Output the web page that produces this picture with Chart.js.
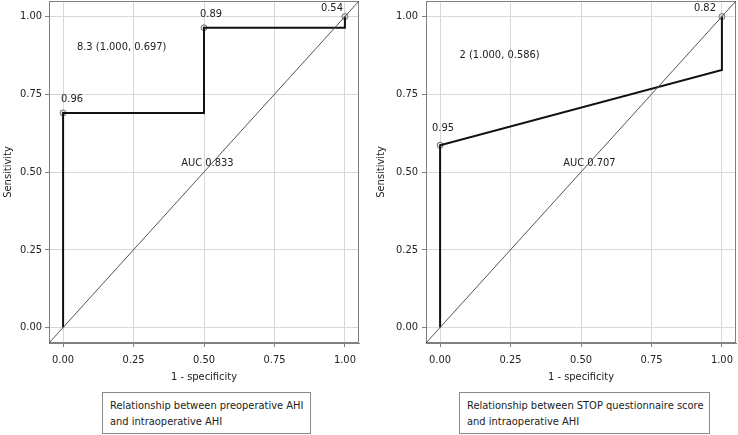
<!DOCTYPE html>
<html>
<head>
<meta charset="utf-8">
<script src="https://cdn.jsdelivr.net/npm/chart.js@4.4.1/dist/chart.umd.min.js"></script>
<style>
  body { margin: 0; background: #fff; width: 738px; height: 435px; position: relative; overflow: hidden;
         font-family: "DejaVu Sans Condensed", "DejaVu Sans", sans-serif; }
  .panel { position: absolute; top: 0; width: 369px; height: 390px; }
  .caption { position: absolute; top: 392px; height: 35px; border: 1px solid #8a8a8a; padding: 5px 0 0 7px;
             font-size: 11px; line-height: 16px; color: #222; box-sizing: content-box; }
</style>
</head>
<body>
<canvas id="preChart" class="panel" style="left:0" width="369" height="390"></canvas>
<canvas id="stopChart" class="panel" style="left:369px" width="369" height="390"></canvas>
<div class="caption" style="left:102px; width:200px">Relationship between preoperative AHI<br>and intraoperative AHI</div>
<div class="caption" style="left:459px; width:242px">Relationship between STOP questionnaire score<br>and intraoperative AHI</div>
<script>
// preoperative AHI ROC curve
const preFpr = [0, 0, 0.5, 0.5, 1, 1];
const preTpr = [0, 0.69, 0.69, 0.964, 0.964, 1];
const preCutFpr = [0, 0.5, 1];
const preCutTpr = [0.69, 0.964, 1];
const preCutLabels = ['0.96', '0.89', '0.54'];
const preNotes = ['8.3 (1.000, 0.697)', 'AUC 0.833'];

// STOP questionnaire ROC curve
const stopFpr = [0, 0, 1, 1];
const stopTpr = [0, 0.586, 0.828, 1];
const stopCutFpr = [0, 1];
const stopCutTpr = [0.586, 1];
const stopCutLabels = ['0.95', '0.82'];
const stopNotes = ['2 (1.000, 0.586)', 'AUC 0.707'];

const tickValues = [0, 0.25, 0.5, 0.75, 1];
const axisMin = -0.05, axisMax = 1.05;

const FONT = '"DejaVu Sans Condensed", "DejaVu Sans", sans-serif';
Chart.defaults.font.family = FONT;
Chart.defaults.font.size = 11;
Chart.defaults.color = '#222';

const toPoints = (xs, ys) => xs.map((v, i) => ({x: v, y: ys[i]}));

const rocText = {
    id: 'rocText',
    beforeDatasetsDraw(chart) {
        const {ctx, chartArea: a} = chart;
        ctx.save();
        ctx.strokeStyle = '#808080';
        ctx.lineWidth = 1;
        ctx.strokeRect(a.left + 0.5, a.top + 0.5, a.right - a.left - 1, a.bottom - a.top - 1);
        ctx.restore();
    },
    afterDatasetsDraw(chart, args, opts) {
        const {ctx, scales: {x, y}} = chart;
        ctx.save();
        ctx.font = '11px ' + FONT;
        ctx.fillStyle = '#222';
        ctx.textBaseline = 'middle';
        ctx.textAlign = 'left';
        opts.notes.forEach((t, i) => {
            ctx.fillText(t, x.getPixelForValue(opts.notePos[i][0]), y.getPixelForValue(opts.notePos[i][1]));
        });
        ctx.textAlign = 'center';
        chart.getDatasetMeta(2).data.forEach((pt, i) => {
            ctx.fillText(opts.cutLabels[i], pt.x + opts.labelShift[i][0], pt.y + opts.labelShift[i][1]);
        });
        ctx.restore();
    }
};

function createChart(id, fpr, tpr, cutFpr, cutTpr, cutLabels, notes, notePos, labelShift, yWidth, padRight, yTitlePad, yTickPad) {
    return new Chart(document.getElementById(id), {
        type: 'scatter',
        data: {
            datasets: [{
                data: [{x: axisMin, y: axisMin}, {x: axisMax, y: axisMax}],
                showLine: true,
                borderColor: '#555',
                borderWidth: 1,
                pointRadius: 0
            }, {
                data: toPoints(fpr, tpr),
                showLine: true,
                borderColor: '#111',
                borderWidth: 2,
                pointRadius: 0
            }, {
                data: toPoints(cutFpr, cutTpr),
                pointRadius: 3,
                borderWidth: 1,
                borderColor: '#707070',
                backgroundColor: 'rgba(210,210,210,0.6)'
            }]
        },
        options: {
            responsive: false,
            animation: false,
            devicePixelRatio: 1,
            layout: { autoPadding: false, padding: { top: 1, right: padRight, left: 0, bottom: 0 } },
            plugins: {
                legend: { display: false },
                tooltip: { enabled: false },
                rocText: { notes: notes, notePos: notePos, cutLabels: cutLabels, labelShift: labelShift }
            },
            scales: {
                x: {
                    type: 'linear',
                    min: axisMin,
                    max: axisMax,
                    afterBuildTicks: (s) => { s.ticks = tickValues.map(v => ({value: v})); },
                    afterFit: (s) => { s.height = 47; s.paddingLeft = 0; s.paddingRight = 0; },
                    ticks: { padding: 7, maxRotation: 0, callback: (v) => v.toFixed(2) },
                    grid: { color: '#d8d8d8', tickColor: '#808080', tickLength: 4 },
                    border: { color: '#808080' },
                    title: { display: true, text: '1 - specificity', padding: { top: 0, bottom: 6 } }
                },
                y: {
                    type: 'linear',
                    min: axisMin,
                    max: axisMax,
                    afterBuildTicks: (s) => { s.ticks = tickValues.map(v => ({value: v})); },
                    afterFit: (s) => { s.width = yWidth; s.paddingTop = 0; s.paddingBottom = 0; },
                    ticks: { padding: yTickPad, callback: (v) => v.toFixed(2) },
                    grid: { color: '#d8d8d8', tickColor: '#808080', tickLength: 4 },
                    border: { color: '#808080' },
                    title: { display: true, text: 'Sensitivity', padding: { top: yTitlePad, bottom: 0 } }
                }
            }
        },
        plugins: [rocText]
    });
}

createChart('preChart', preFpr, preTpr, preCutFpr, preCutTpr, preCutLabels, preNotes,
    [[0.049, 0.90], [0.419, 0.53]], [[9, -14], [7, -14], [-13, -8]], 49, 10, 1.4, 3);
createChart('stopChart', stopFpr, stopTpr, stopCutFpr, stopCutTpr, stopCutLabels, stopNotes,
    [[0.069, 0.877], [0.437, 0.53]], [[3, -17], [-17, -8]], 57, 2, 5.4, 4);
</script>
</body>
</html>
